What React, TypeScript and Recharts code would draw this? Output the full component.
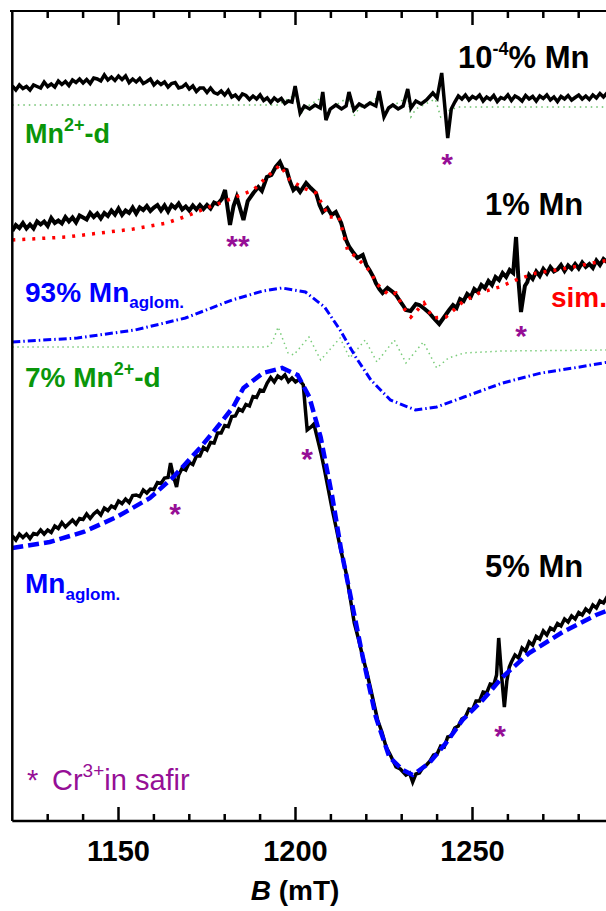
import { LineChart, Line, XAxis, YAxis } from "recharts";

// Magnetic field axis (mT)
const FIELD_DOMAIN: [number, number] = [1120, 1290];
const FIELD_TICKS = [1130, 1140, 1150, 1160, 1170, 1180, 1190, 1200, 1210, 1220, 1230, 1240, 1250, 1260, 1270, 1280];
const LABELLED_TICKS = [1150, 1200, 1250];
const INTENSITY_DOMAIN: [number, number] = [0, 81];

// EPR spectra, [B (mT), dI/dB (arb. u., stacked with offsets)]
const exp10m4: number[][] = [
  [1120, 73.5], [1121, 73.1], [1122, 73.6], [1123, 73.25], [1124, 73.45], [1125, 73.1], [1126, 73.6], [1127, 73.45],
  [1128, 73.3], [1129, 73.9], [1130, 73.45], [1131, 73.7], [1132, 73.4], [1133, 74.0], [1134, 73.65], [1135, 73.95],
  [1136, 73.55], [1137, 74.1], [1138, 73.85], [1139, 74.2], [1140, 73.8], [1141, 74.15], [1142, 73.75], [1143, 74.3],
  [1144, 74.2], [1145, 74.0], [1146, 74.6], [1147, 74.1], [1148, 74.4], [1149, 74.05], [1150, 74.5], [1151, 74.15],
  [1152, 74.5], [1153, 73.85], [1154, 74.2], [1155, 73.9], [1156, 74.25], [1157, 73.75], [1158, 73.95], [1159, 74.2],
  [1160, 73.6], [1161, 73.95], [1162, 73.65], [1163, 73.9], [1164, 73.4], [1165, 73.75], [1166, 73.85], [1167, 73.3],
  [1168, 73.4], [1169, 73.7], [1170, 73.2], [1171, 73.5], [1172, 72.95], [1173, 73.3], [1174, 73.3], [1175, 72.85],
  [1176, 73.3], [1177, 72.85], [1178, 72.7], [1179, 73.0], [1180, 72.6], [1181, 73.05], [1182, 72.4], [1183, 72.6],
  [1184, 72.2], [1185, 72.7], [1186, 72.55], [1187, 72.15], [1188, 72.5], [1189, 72.2], [1190, 72.6], [1191, 72.05],
  [1192, 72.3], [1193, 71.85], [1194, 72.3], [1195, 72.0], [1196, 72.25], [1197, 71.75], [1198, 72.0], [1199, 71.9],
  [1199.9, 73.5], [1201.3, 70.8], [1202.5, 71.5], [1204, 71.2], [1205.5, 71.6], [1207, 71.3], [1207.7, 72.9], [1208.6, 70.1],
  [1209.8, 71.2], [1211.4, 71.6], [1213, 71.2], [1214.3, 71.5], [1215.1, 72.9], [1216.5, 71.1], [1218, 71.7], [1219.5, 71.4],
  [1221, 71.8], [1222.7, 71.5], [1223.6, 73.0], [1225.0, 70.4], [1226.3, 71.3], [1227.5, 71.6], [1229, 71.2], [1230.4, 71.5],
  [1231.7, 73.2], [1232.6, 71.3], [1234.0, 72.0], [1235.5, 71.7], [1237, 72.1], [1238.8, 72.8], [1240, 72.3], [1241.3, 74.8],
  [1243.0, 68.3], [1244, 71.2], [1245, 71.9], [1246, 72.5], [1247, 72.2], [1248, 72.6], [1249, 72.1], [1250, 72.45],
  [1251, 72.25], [1252, 72.6], [1253, 72.0], [1254, 72.4], [1255, 72.15], [1256, 72.55], [1257, 71.95], [1258, 72.35],
  [1259, 72.2], [1260, 72.6], [1261, 72.05], [1262, 72.5], [1263, 72.3], [1264, 72.0], [1265, 72.55], [1266, 72.2],
  [1267, 72.45], [1268, 72.0], [1269, 72.5], [1270, 72.25], [1271, 72.6], [1272, 72.1], [1273, 72.4], [1274, 71.95],
  [1275, 72.45], [1276, 72.2], [1277, 72.55], [1278, 72.1], [1279, 72.35], [1280, 72.6], [1281, 72.2], [1282, 72.5],
  [1283, 72.15], [1284, 72.6], [1285, 72.3], [1286, 72.75], [1287, 72.4], [1288, 72.8], [1289, 72.6], [1290, 72.8],
];

const mnD10m4: number[][] = [
  [1120, 71.6], [1195, 71.6], [1199.9, 72.6], [1201.3, 70.6], [1203, 71.4], [1207.7, 72.4], [1208.6, 70.4], [1210, 71.3],
  [1215.1, 72.4], [1216.5, 70.5], [1218, 71.3], [1223.6, 72.4], [1225, 70.4], [1226.5, 71.3], [1231.7, 72.4], [1232.6, 70.4],
  [1234, 71.2], [1239.5, 72.2], [1241, 70.4], [1243, 71.0], [1246, 71.4], [1290, 71.4],
];

const exp1: number[][] = [
  [1120, 59.0], [1121, 59.6], [1122, 59.3], [1123, 59.8], [1124, 59.25], [1125, 59.65], [1126, 59.25], [1127, 59.95],
  [1128, 59.65], [1129, 59.95], [1130, 59.5], [1131, 60.3], [1132, 59.8], [1133, 60.05], [1134, 59.75], [1135, 60.4],
  [1136, 59.95], [1137, 60.35], [1138, 59.85], [1139, 60.55], [1140, 60.35], [1141, 60.15], [1142, 60.8], [1143, 60.4],
  [1144, 60.75], [1145, 60.25], [1146, 60.8], [1147, 60.5], [1148, 61.05], [1149, 60.65], [1150, 61.25], [1151, 60.6],
  [1152, 61.05], [1153, 60.8], [1154, 61.35], [1155, 60.75], [1156, 61.35], [1157, 61.1], [1158, 61.5], [1159, 61.0],
  [1160, 61.35], [1161, 61.6], [1162, 61.05], [1163, 61.55], [1164, 60.95], [1165, 61.6], [1166, 61.3], [1167, 61.75],
  [1168, 61.15], [1169, 61.45], [1170, 61.05], [1171, 61.55], [1172, 61.15], [1173, 61.6], [1174, 61.2], [1175, 61.6],
  [1176, 61.25], [1177, 61.85], [1178, 61.7], [1179.2, 62.2], [1180.1, 63.1], [1181.5, 59.6], [1182.5, 61.5], [1183.4, 62.4],
  [1185.3, 60.1], [1186.5, 62.0], [1188.1, 62.8], [1189.5, 63.4], [1190.5, 63.0], [1191.9, 64.4], [1193.2, 64.6], [1194.4, 65.4],
  [1195.6, 65.9], [1196.5, 65.2], [1197.5, 65.1], [1198.4, 64.0], [1199.4, 63.1], [1200.3, 63.4], [1201.3, 62.9], [1203, 63.8],
  [1204.3, 63.3], [1205.8, 62.8], [1206.8, 61.6], [1207.7, 60.9], [1209, 61.3], [1210.2, 60.6], [1211.4, 60.9], [1212.9, 59.8],
  [1214.3, 58.1], [1215.2, 57.4], [1216.2, 56.9], [1217.5, 56.3], [1219, 56.6], [1220, 55.6], [1220.9, 55.1], [1222, 54.4],
  [1222.7, 53.8], [1223.7, 53.2], [1224.6, 52.8], [1226, 53.3], [1227.5, 52.9], [1228.4, 52.6], [1229.3, 52.1], [1230.3, 51.6],
  [1231.2, 51.1], [1232.5, 51.0], [1234, 51.7], [1235, 51.6], [1236.5, 51.2], [1237.8, 50.8], [1239, 50.3], [1240.6, 49.7],
  [1241.8, 50.3], [1243.4, 51.1], [1244.5, 51.6], [1245.5, 51.3], [1246.5, 52.2], [1247.5, 52.0], [1248.5, 52.7], [1249.5, 52.4],
  [1250.5, 53.2], [1251.5, 52.9], [1252.5, 53.6], [1253.5, 53.3], [1254.5, 54.0], [1255.5, 53.6], [1256.5, 54.4], [1257.5, 54.1],
  [1258.5, 54.8], [1259.5, 54.4], [1260.5, 55.1], [1261.5, 54.8], [1262.3, 58.4], [1263.0, 54.0], [1263.7, 50.9], [1264.8, 53.5],
  [1265.5, 53.9], [1266, 54.6], [1267, 54.2], [1268, 54.95], [1269, 54.5], [1270, 55.2], [1271, 54.75], [1272, 55.4],
  [1273, 54.95], [1274, 55.15], [1275, 55.6], [1276, 55.0], [1277, 55.55], [1278, 55.2], [1279, 55.7], [1280, 55.25],
  [1281, 55.85], [1282, 55.4], [1283, 55.7], [1284, 55.3], [1285, 56.05], [1286, 55.6], [1287, 56.2], [1288, 55.9],
  [1289, 56.3], [1290, 56.1],
];

const sim1: number[][] = [
  [1120, 58.1], [1135.4, 58.4], [1154.2, 59.2], [1163.6, 59.8], [1169.3, 60.5], [1174.9, 61.3], [1182.4, 62.3], [1188.1, 63.1],
  [1191.9, 64.4], [1195.6, 65.6], [1198.4, 64.1], [1202.2, 63.3], [1205.8, 62.8], [1209.5, 60.4], [1212.3, 60.4], [1214.7, 57.1],
  [1217.1, 56.4], [1221.3, 54.9], [1222.7, 53.8], [1226.4, 52.6], [1228.4, 52.8], [1230.3, 51.4], [1232.6, 50.4], [1236.3, 51.8],
  [1238.8, 50.3], [1242.5, 50.4], [1247.2, 51.9], [1251.9, 52.8], [1257.6, 53.4], [1262.3, 54.1], [1268, 54.8], [1273.6, 55.1],
  [1278.4, 55.4], [1284, 55.8], [1290, 56.2],
];

const aglom93: number[][] = [
  [1120, 47.9], [1138.4, 48.3], [1154.7, 49.1], [1168.9, 50.3], [1182.1, 52.1], [1190.8, 53.0], [1196.2, 53.3], [1202.8, 52.9],
  [1208.2, 51.4], [1212.6, 49.1], [1217, 46.4], [1221.3, 44.1], [1226.8, 42.1], [1233.9, 41.1], [1239.9, 41.4], [1247.6, 42.4],
  [1258.5, 43.8], [1269.4, 44.8], [1280.3, 45.4], [1290, 46.0],
];

const mnD7: number[][] = [
  [1120, 47.4], [1192, 47.4], [1193.5, 47.9], [1195.1, 49.4], [1197.9, 46.8], [1199.5, 46.6], [1203.8, 48.4], [1207.1, 46.1],
  [1212.6, 48.3], [1215.3, 46.3], [1219.7, 48.1], [1223, 45.9], [1227.9, 48.1], [1231.2, 45.8], [1236.1, 47.9], [1239.9, 45.3],
  [1243.2, 46.3], [1247.6, 46.8], [1258.5, 47.0], [1290, 47.1],
];

const exp5: number[][] = [
  [1120, 28.5], [1121, 28.1], [1122, 28.7], [1123, 28.35], [1124, 28.7], [1125, 28.25], [1126, 28.75], [1127, 28.65],
  [1128, 29.1], [1129, 28.7], [1130, 29.1], [1131, 28.85], [1132, 29.5], [1133, 29.25], [1134, 29.85], [1135, 29.4],
  [1136, 29.75], [1137, 30.1], [1138, 29.7], [1139, 30.25], [1140, 30.15], [1141, 30.7], [1142, 30.25], [1143, 30.7],
  [1144, 31.0], [1145, 30.6], [1146, 31.3], [1147, 31.05], [1148, 31.5], [1149, 31.3], [1150, 32.0], [1151, 31.75],
  [1152, 32.2], [1153, 31.85], [1154, 32.55], [1155, 32.6], [1156, 32.45], [1157, 33.1], [1158, 32.8], [1159, 33.2],
  [1160, 33.15], [1161, 33.85], [1162, 33.75], [1163, 34.3], [1164, 34.35], [1164.7, 35.8], [1165.5, 34.5], [1166.4, 33.4],
  [1167, 34.6], [1168, 35.3], [1169, 35.1], [1170, 35.85], [1171, 35.65], [1172, 36.5], [1173, 36.5], [1174, 37.35],
  [1175, 37.1], [1176, 37.85], [1177, 37.8], [1178, 38.8], [1179, 38.8], [1180, 39.55], [1181, 39.45], [1182, 40.45],
  [1183, 40.5], [1184, 41.2], [1185, 41.0], [1186, 41.65], [1187, 41.5], [1188, 42.45], [1189, 42.35], [1190, 43.1],
  [1191, 43.0], [1192, 43.8], [1193, 44.35], [1194, 43.9], [1195, 44.5], [1196, 44.25], [1197, 44.6], [1198, 43.95],
  [1199, 44.3], [1200, 43.9], [1201, 44.15], [1202.2, 43.6], [1202.8, 41.1], [1203.3, 39.1], [1204.4, 39.4], [1205.2, 39.7],
  [1206.1, 38.4], [1207.2, 36.8], [1208.2, 35.1], [1209.3, 33.1], [1210.4, 31.1], [1211.5, 29.3], [1212.6, 27.4], [1214.3, 24.8],
  [1215.5, 22.2], [1216.6, 19.8], [1217.8, 18.2], [1219, 16.4], [1220.2, 14.8], [1221.3, 13.1], [1222.3, 11.5], [1223.2, 10.1],
  [1224.4, 8.9], [1225.6, 7.4], [1226.8, 6.6], [1228.4, 5.4], [1229.6, 5.2], [1231.2, 4.6], [1232.2, 4.8], [1233.1, 3.9],
  [1234, 4.7], [1235, 4.8], [1235.9, 5.3], [1237, 5.6], [1238, 6.0], [1239, 6.6], [1240, 6.7], [1241, 7.5],
  [1242, 7.4], [1243, 8.4], [1244, 8.5], [1245, 9.3], [1246, 9.5], [1247, 10.2], [1248, 10.4], [1249, 11.2],
  [1250, 11.1], [1251, 12.0], [1252, 12.0], [1253, 12.9], [1254, 12.8], [1255, 13.7], [1256, 13.6], [1256.8, 14.6],
  [1257.4, 18.3], [1258.2, 14.6], [1259, 11.4], [1259.7, 14.0], [1260.4, 15.4], [1261, 15.9], [1262, 16.6], [1263, 16.3],
  [1264, 17.3], [1265, 17.0], [1266, 17.9], [1267, 17.6], [1268, 18.45], [1269, 18.2], [1270, 19.0], [1271, 18.6],
  [1272, 19.3], [1273, 19.1], [1274, 19.75], [1275, 19.5], [1276, 20.2], [1277, 19.9], [1278, 20.5], [1279, 20.2],
  [1280, 20.85], [1281, 20.6], [1282, 21.2], [1283, 20.9], [1284, 21.6], [1285, 21.3], [1286, 22.0], [1287, 21.8],
  [1288, 22.4], [1289, 22.2], [1290, 22.7],
];

const aglom5: number[][] = [
  [1120, 27.3], [1130.6, 27.9], [1140.1, 28.9], [1149.5, 30.4], [1158.9, 32.3], [1165.5, 34.4], [1173, 37.3], [1177.7, 39.3],
  [1182.4, 41.4], [1185.3, 43.3], [1190.8, 44.8], [1196.2, 45.3], [1200.6, 44.6], [1203.9, 42.4], [1207.1, 38.4], [1210.4, 32.4],
  [1212.9, 27.1], [1215.2, 23.1], [1219, 16.4], [1222.7, 10.4], [1226.5, 6.4], [1230.3, 5.1], [1233.1, 4.6], [1237.8, 5.8],
  [1242.5, 7.8], [1247.2, 10.1], [1252.9, 12.1], [1258.5, 14.4], [1266, 16.8], [1275.5, 18.9], [1284.9, 20.6], [1290, 21.3],
];

const toRows = (pts: number[][]) => pts.map(([b, v]) => ({ b, v }));

const FONT = "'Liberation Sans', Arial, Helvetica, sans-serif";
const GREEN = "#0a960a";
const BLUE = "#0000ff";
const PURPLE = "#960f96";

// plot frame, px
const LEFT = 11.3;
const TOP = 11;
const PLOT_H = 810;

// ticks point inward on both the bottom and the top frame edge
const FieldTick = (props: any) => {
  const { x, y, payload } = props;
  const major = LABELLED_TICKS.includes(payload.value);
  const len = major ? 14 : 7;
  const top = y - PLOT_H;
  return (
    <g>
      <line x1={x} x2={x} y1={y} y2={y - len} stroke="#000" strokeWidth={2.5} />
      <line x1={x} x2={x} y1={top} y2={top + len} stroke="#000" strokeWidth={2.5} />
      {major && (
        <text x={x} y={y + 40} textAnchor="middle" fontFamily={FONT} fontWeight="bold" fontSize={29} fill="#000">
          {payload.value}
        </text>
      )}
    </g>
  );
};

const Star = ({ x, y, n = 1 }: { x: number; y: number; n?: number }) => (
  <text x={x} y={y + 16} textAnchor="middle" fontFamily={FONT} fontWeight="bold" fontSize={30} fill={PURPLE}>
    {"*".repeat(n)}
  </text>
);

const Notes = () => (
  <g fontFamily={FONT} fontWeight="bold">
    <text x={458} y={68} fontSize={31} fill="#000">
      10<tspan dy={-13} fontSize={18}>-4</tspan><tspan dy={13}>% Mn</tspan>
    </text>
    <text x={25} y={143} fontSize={27} fill={GREEN}>
      Mn<tspan dy={-12} fontSize={18}>2+</tspan><tspan dy={12}>-d</tspan>
    </text>
    <text x={485} y={215} fontSize={31} fill="#000">1% Mn</text>
    <text x={25} y={302} fontSize={28} fill={BLUE}>
      93% Mn<tspan dy={6} fontSize={17}>aglom.</tspan>
    </text>
    <text x={551} y={307} fontSize={28} fill="#ff0000">sim.</text>
    <text x={25} y={387} fontSize={28} fill={GREEN}>
      7% Mn<tspan dy={-12} fontSize={18}>2+</tspan><tspan dy={12}>-d</tspan>
    </text>
    <text x={485} y={577} fontSize={31} fill="#000">5% Mn</text>
    <text x={25} y={593} fontSize={28} fill={BLUE}>
      Mn<tspan dy={7} fontSize={17}>aglom.</tspan>
    </text>
    <text x={27} y={790} fontSize={29} fontWeight="normal" fill={PURPLE}>
      *<tspan x={52}>Cr</tspan><tspan dy={-13} fontSize={19}>3+</tspan><tspan dy={13}>in safir</tspan>
    </text>
    <Star x={447} y={158} />
    <Star x={238} y={240} n={2} />
    <Star x={521} y={330} />
    <Star x={175} y={508} />
    <Star x={307} y={453} />
    <Star x={500} y={730} />
    <text x={295} y={900} textAnchor="middle" fontSize={28} fill="#000">
      <tspan fontStyle="italic">B</tspan> (mT)
    </text>
  </g>
);

export default function App() {
  return (
    <div style={{ position: "absolute", left: 0, top: 0, width: 606, height: 911, overflow: "hidden", background: "#fff" }}>
      <LineChart width={622} height={911} margin={{ top: TOP, right: 7.9, bottom: 0, left: LEFT }}>
        <XAxis
          dataKey="b"
          type="number"
          domain={FIELD_DOMAIN}
          allowDataOverflow
          ticks={FIELD_TICKS}
          interval={0}
          height={90}
          tickSize={0}
          tickMargin={0}
          tickLine={false}
          tick={(p: any) => <FieldTick {...p} />}
          axisLine={{ stroke: "#000", strokeWidth: 2.5 }}
        />
        <YAxis
          type="number"
          domain={INTENSITY_DOMAIN}
          allowDataOverflow
          width={1}
          tick={false}
          tickLine={false}
          axisLine={{ stroke: "#000", strokeWidth: 2.5 }}
        />

        <Line data={toRows(mnD10m4)} dataKey="v" stroke="#6cc06c" strokeWidth={1.5} strokeDasharray="1.5 4" dot={false} isAnimationActive={false} />
        <Line data={toRows(mnD7)} dataKey="v" stroke="#7acc7a" strokeWidth={1.5} strokeDasharray="1.5 3.5" dot={false} isAnimationActive={false} />
        <Line data={toRows(aglom93)} dataKey="v" stroke={BLUE} strokeWidth={3} strokeDasharray="8 3 1.5 3" dot={false} isAnimationActive={false} />

        <Line data={toRows(exp10m4)} dataKey="v" stroke="#000" strokeWidth={3.5} dot={false} isAnimationActive={false} />
        <Line data={toRows(exp1)} dataKey="v" stroke="#000" strokeWidth={4} dot={false} isAnimationActive={false} />
        <Line data={toRows(sim1)} dataKey="v" stroke="#ff0000" strokeWidth={3.5} strokeDasharray="3 7" dot={false} isAnimationActive={false} />
        <Line data={toRows(exp5)} dataKey="v" stroke="#000" strokeWidth={3.5} dot={false} isAnimationActive={false} />
        <Line data={toRows(aglom5)} dataKey="v" stroke={BLUE} strokeWidth={4.5} strokeDasharray="11 5" dot={false} isAnimationActive={false} />

        <Notes />
      </LineChart>
      {/* top edge of the frame */}
      <div style={{ position: "absolute", left: LEFT - 1.25, top: TOP - 1.25, width: 620, height: 2.5, background: "#000" }} />
    </div>
  );
}
